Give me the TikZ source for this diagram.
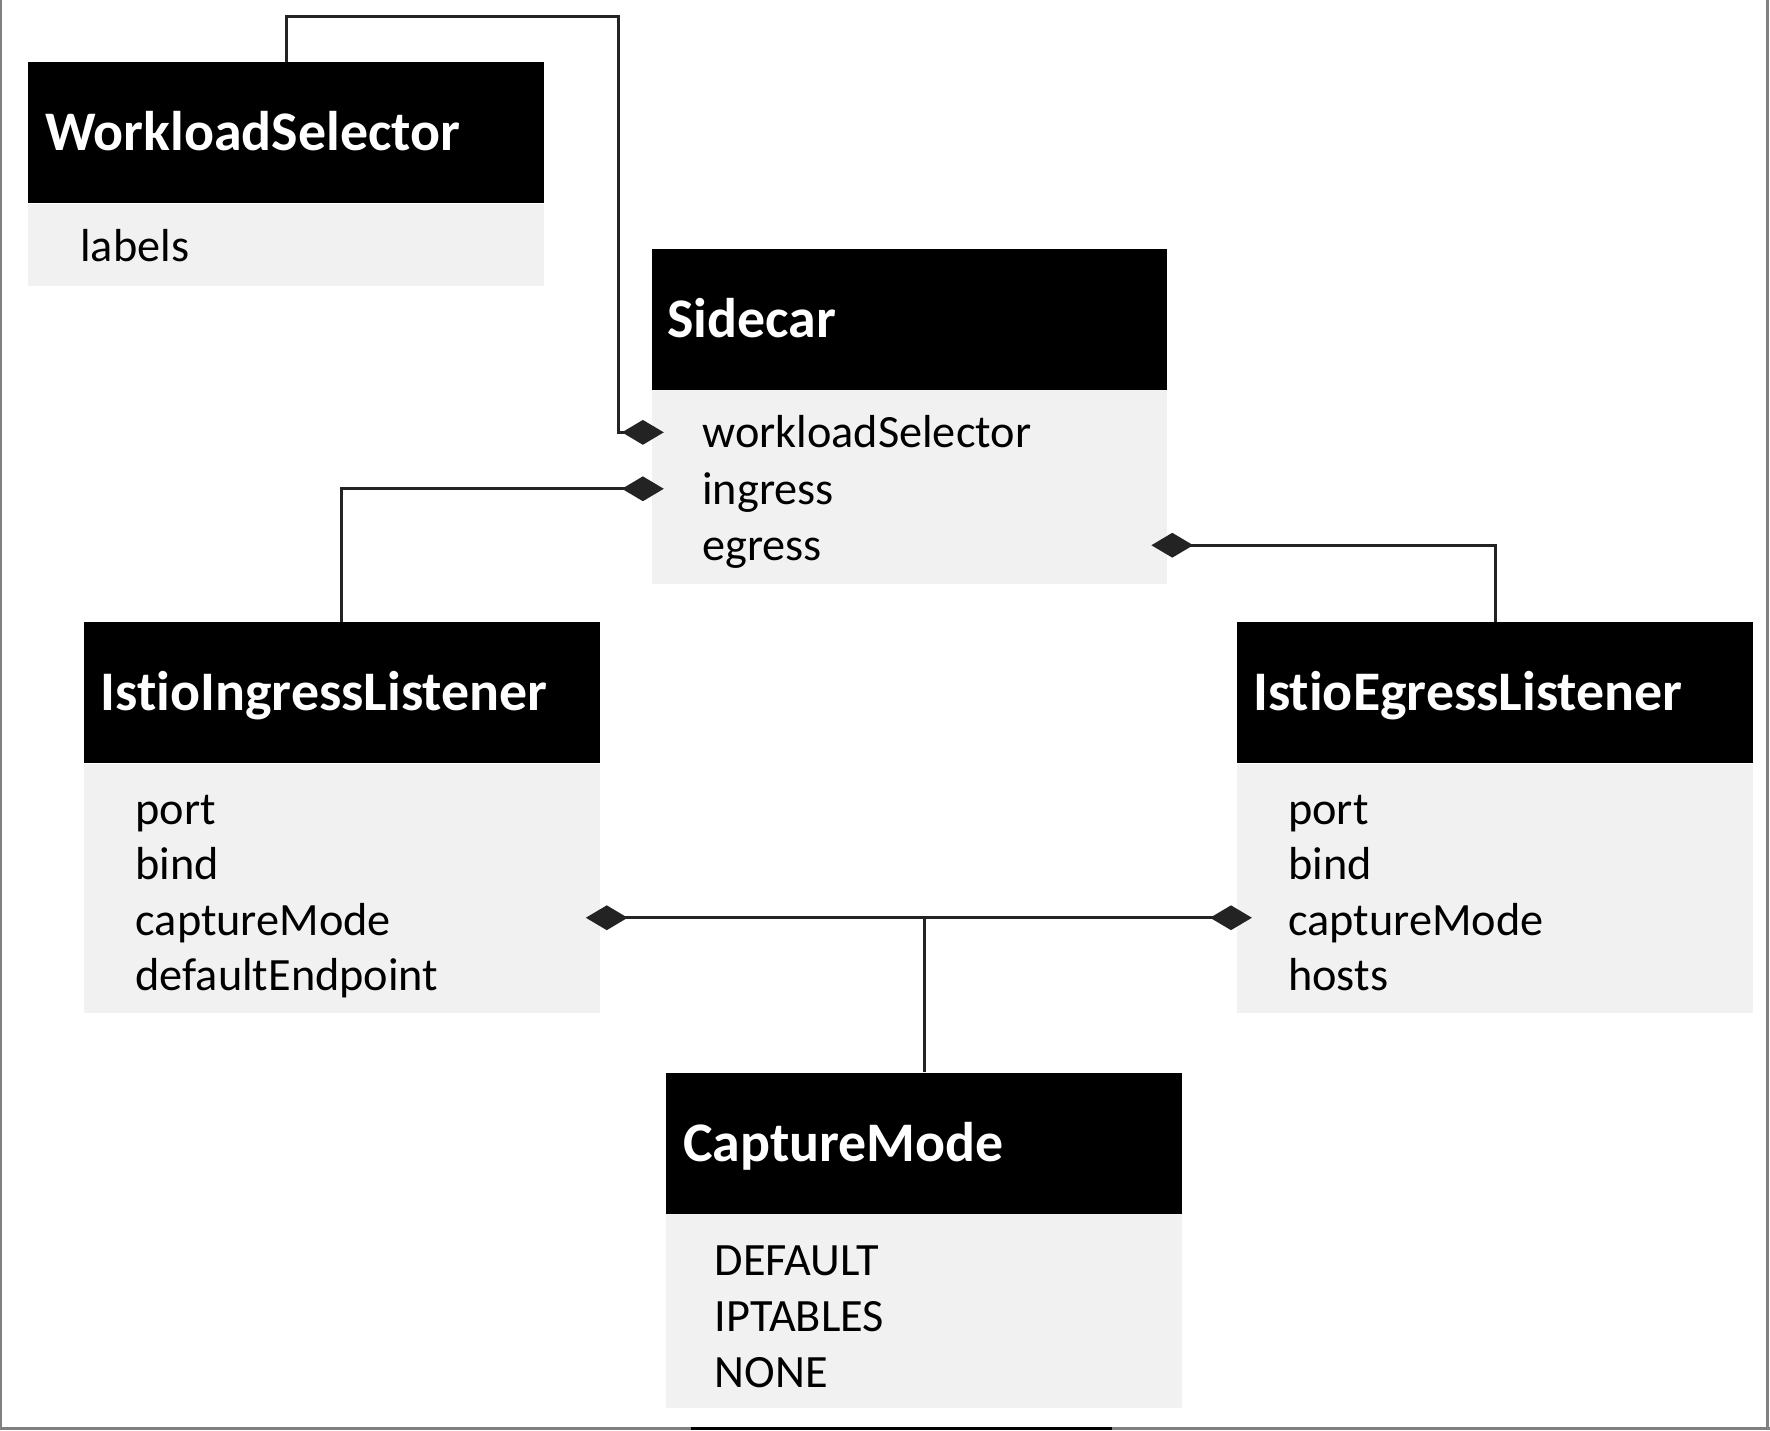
\documentclass[tikz,border=0pt]{standalone}
\usepackage{fontspec}
\setmainfont{Carlito}[Ligatures={NoCommon}]
\usetikzlibrary{arrows.meta}
\definecolor{bodygray}{RGB}{241,241,241}
\definecolor{framegray}{RGB}{128,128,128}
\definecolor{linecol}{RGB}{35,35,35}
\begin{document}
\begin{tikzpicture}[x=1pt,y=1pt,
  hdr/.style={anchor=north west, fill=black, minimum width=457pt,
    minimum height=125pt, inner sep=0pt},
  title/.style={anchor=base west, inner sep=0pt, text=white,
    font=\fontsize{49.5}{60}\selectfont\bfseries},
  bodybox/.style={anchor=north west, fill=bodygray, minimum width=457pt, inner sep=0pt},
  item/.style={anchor=west, inner sep=0pt, font=\fontsize{41}{50}\selectfont,
    text height=0.75em, text depth=0.25em, yshift=-11pt},
  conn/.style={draw=linecol, line width=2.7pt},
  comp/.style={conn, -{Diamond[length=37pt,width=22pt]}},
]
\useasboundingbox (0,0) rectangle (1568,-1267);
\fill[white] (0,0) rectangle (1568,-1267);

% frame
\draw[framegray, line width=1.5pt] (0.75,0) -- (0.75,-1265.5);
\draw[framegray, line width=2.6pt] (1565.5,0) -- (1565.5,-1265.5);
\draw[framegray, line width=2pt] (0,-1265.5) -- (1568,-1265.5);
\draw[black, line width=2pt] (612,-1265.5) -- (985,-1265.5);

% WorkloadSelector
\node[hdr] (wsHead) at (25,-55) {};
\node[title] (wsTitle) at ([shift={(15,-16)}]wsHead.west) {WorkloadSelector};
\node[bodybox, minimum height=73pt] (wsBody) at (wsHead.south west) {};
\node[item] (wsLabels) at (71,-218) {labels};

% Sidecar
\node[hdr] (scHead) at (577,-220) {};
\node[title] (scTitle) at ([shift={(14,-16)}]scHead.west) {Sidecar};
\node[bodybox, minimum height=172pt] (scBody) at (scHead.south west) {};
\node[item] (scWs) at (622,-383) {workloadSelector};
\node[item] (scIn) at (622,-433) {ingress};
\node[item] (scEg) at (622,-483) {egress};

% IstioIngressListener
\node[hdr] (inHead) at (74,-551) {};
\node[title] (inTitle) at ([shift={(15,-16)}]inHead.west) {IstioIngressListener};
\node[bodybox, minimum height=221pt] (inBody) at (inHead.south west) {};
\node[item] (inPort) at (120,-717) {port};
\node[item] (inBind) at (120,-766) {bind};
\node[item] (inCap) at (120,-815) {captureMode};
\node[item] (inDef) at (120,-864) {defaultEndpoint};

% IstioEgressListener
\node[hdr] (egHead) at (1096,-551) {};
\node[title] (egTitle) at ([shift={(14,-16)}]egHead.west) {IstioEgressListener};
\node[bodybox, minimum height=221pt] (egBody) at (egHead.south west) {};
\node[item] (egPort) at (1141,-717) {port};
\node[item] (egBind) at (1141,-766) {bind};
\node[item] (egCap) at (1141,-815) {captureMode};
\node[item] (egHosts) at (1141,-864) {hosts};

% CaptureMode
\node[hdr] (cmHead) at (590,-950) {};
\node[title] (cmTitle) at ([shift={(15,-16)}]cmHead.west) {CaptureMode};
\node[bodybox, minimum height=172pt] (cmBody) at (cmHead.south west) {};
\node[item] (cmDef) at (633,-1116) {DEFAULT};
\node[item] (cmIpt) at (633,-1166) {IPTABLES};
\node[item] (cmNone) at (633,-1216) {NONE};

% connector end points
\coordinate (wsBend) at (548,-15);
\coordinate (wsTip) at (588,-383);
\coordinate (inTip) at (588,-433);
\coordinate (egTip) at (1020,-483);
\coordinate (cmLTip) at (519,-813);
\coordinate (cmRTip) at (1109,-813);

% connectors
\draw[comp] (wsHead.north) |- (wsBend) |- (wsTip);
\draw[comp] (inHead.north) |- (inTip);
\draw[comp] (egHead.north) |- (egTip);
\draw[comp] (cmHead.north) |- (cmLTip);
\draw[comp] (cmHead.north) |- (cmRTip);
\end{tikzpicture}
\end{document}
